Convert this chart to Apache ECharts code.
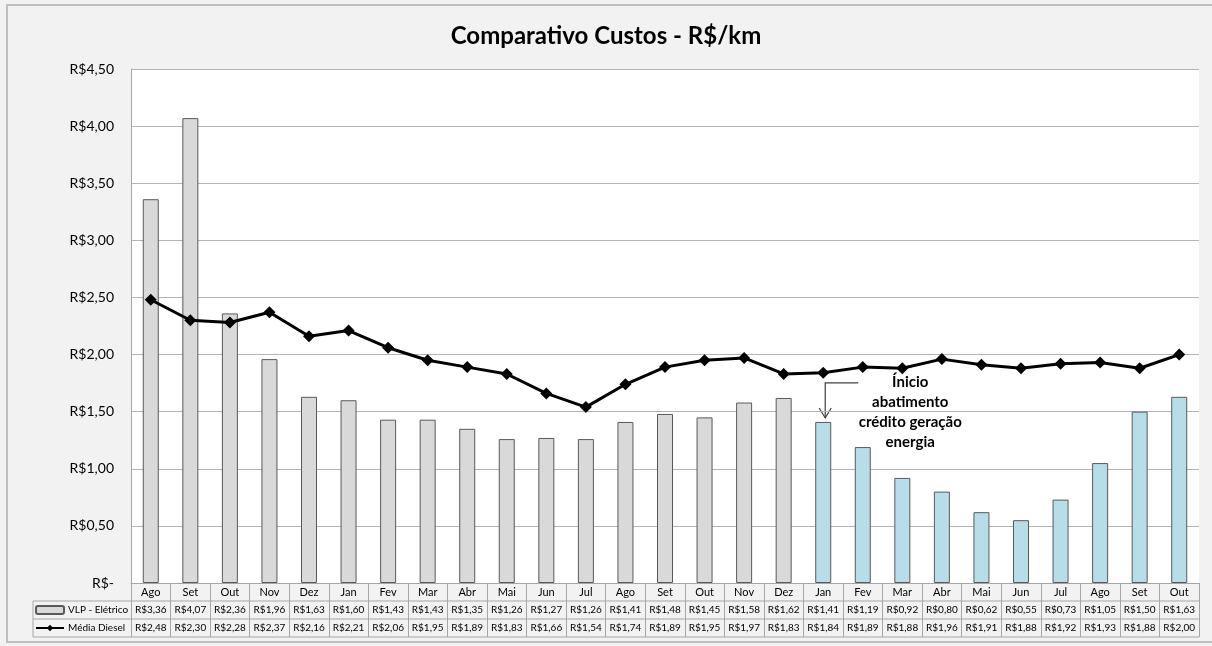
<!DOCTYPE html>
<html>
<head>
<meta charset="utf-8">
<title>Comparativo Custos - R$/km</title>
<script src="https://cdn.jsdelivr.net/npm/echarts@6/dist/echarts.min.js"></script>
<style>
  html, body { margin: 0; padding: 0; background: #f2f2f2; }
  #chart { width: 1212px; height: 646px; }
</style>
</head>
<body>
<div id="chart"></div>
<script>
// meses (dois anos seguidos)
const months = ['Ago', 'Set', 'Out', 'Nov', 'Dez', 'Jan', 'Fev', 'Mar', 'Abr', 'Mai', 'Jun', 'Jul', 'Ago',
  'Set', 'Out', 'Nov', 'Dez', 'Jan', 'Fev', 'Mar', 'Abr', 'Mai', 'Jun', 'Jul', 'Ago', 'Set', 'Out']
// VLP - Elétrico (R$/km)
const vlpEletrico = [3.36, 4.07, 2.36, 1.96, 1.63, 1.60, 1.43, 1.43, 1.35, 1.26, 1.27, 1.26, 1.41,
  1.48, 1.45, 1.58, 1.62, 1.41, 1.19, 0.92, 0.80, 0.62, 0.55, 0.73, 1.05, 1.50, 1.63]
// Média Diesel (R$/km)
const mediaDiesel = [2.48, 2.30, 2.28, 2.37, 2.16, 2.21, 2.06, 1.95, 1.89, 1.83, 1.66, 1.54, 1.74,
  1.89, 1.95, 1.97, 1.83, 1.84, 1.89, 1.88, 1.96, 1.91, 1.88, 1.92, 1.93, 1.88, 2.00]
// índice do primeiro mês com crédito de geração de energia
const creditStart = 17
const yTicks = { min: 0, max: 4.5, interval: 0.5 }

const FONT = 'Lato, "Open Sans", sans-serif'
const W = 1212
const H = 646
const gridL = 131
const gridR = 1199
const gridT = 69
const gridB = 583
const rowH = 18
const lineColor = '#a6a6a6'

function brl (v) {
  return 'R$' + v.toFixed(2).replace('.', ',')
}

const chart = echarts.init(document.getElementById('chart'), null, { renderer: 'canvas' })

const barData = vlpEletrico.map((v, i) => {
  if (i >= creditStart) {
    return { value: v, itemStyle: { color: '#b7dee8' } }
  }
  return v
})

// linhas da tabela de dados
const tableLines = []
for (let r = 1; r <= 3; r++) {
  tableLines.push({
    type: 'line',
    shape: { x1: 33, y1: gridB + rowH * r, x2: gridR, y2: gridB + rowH * r },
    style: { stroke: lineColor, lineWidth: 1 },
    silent: true
  })
}
tableLines.push({
  type: 'line',
  shape: { x1: 33, y1: gridB + rowH, x2: 33, y2: gridB + rowH * 3 },
  style: { stroke: lineColor, lineWidth: 1 },
  silent: true
})
tableLines.push({
  type: 'rect',
  shape: { x: 7, y: 5, width: W + 20, height: 637 },
  style: { fill: null, stroke: '#bfbfbf', lineWidth: 2 },
  silent: true,
  z: -1
})

const option = {
  backgroundColor: '#f2f2f2',
  animation: false,
  textStyle: { fontFamily: FONT },
  title: {
    text: 'Comparativo Custos - R$/km',
    left: 'center',
    top: 19,
    textStyle: { fontFamily: FONT, fontSize: 24, fontWeight: 'bold', color: '#000' }
  },
  legend: {
    orient: 'vertical',
    left: 35,
    top: gridB + rowH + 3,
    padding: 0,
    itemGap: 6,
    itemWidth: 28,
    itemHeight: 8,
    textStyle: { fontFamily: FONT, fontSize: 10, lineHeight: 12, color: '#000', padding: [0, 0, 0, -1] },
    data: ['VLP - Elétrico', 'Média Diesel']
  },
  grid: {
    left: gridL,
    right: W - gridR,
    top: gridT,
    bottom: H - gridB,
    show: true,
    backgroundColor: '#fff',
    borderWidth: 0
  },
  xAxis: {
    type: 'category',
    data: months,
    boundaryGap: true,
    axisLine: { lineStyle: { color: lineColor } },
    axisTick: { show: true, interval: 0, length: rowH * 3, lineStyle: { color: lineColor } },
    axisLabel: {
      interval: 0,
      margin: 0,
      hideOverlap: false,
      formatter: (value, idx) => {
        return '{m|' + value + '}\n{v|' + brl(vlpEletrico[idx]) + '}\n{v|' + brl(mediaDiesel[idx]) + '}'
      },
      rich: {
        m: { fontFamily: FONT, fontSize: 11, lineHeight: rowH, color: '#000' },
        v: { fontFamily: FONT, fontSize: 10, lineHeight: rowH, color: '#000' }
      }
    }
  },
  yAxis: {
    type: 'value',
    min: yTicks.min,
    max: yTicks.max,
    interval: yTicks.interval,
    axisLine: { show: true, lineStyle: { color: lineColor } },
    axisTick: { show: false },
    splitLine: { lineStyle: { color: '#b3b3b3' } },
    axisLabel: {
      margin: 17,
      fontFamily: FONT,
      fontSize: 14,
      color: '#000',
      formatter: v => (v === 0 ? 'R$-' : brl(v))
    }
  },
  series: [
    {
      name: 'VLP - Elétrico',
      type: 'bar',
      barWidth: 16,
      data: barData,
      itemStyle: { color: '#d9d9d9', borderColor: '#595959', borderWidth: 1 }
    },
    {
      name: 'Média Diesel',
      type: 'line',
      data: mediaDiesel,
      symbol: 'diamond',
      symbolSize: 12,
      z: 5,
      lineStyle: { color: '#000', width: 3 },
      itemStyle: { color: '#000' }
    }
  ],
  graphic: tableLines
}

chart.setOption(option)

// anotação: seta apontando para o primeiro mês com crédito
const p = chart.convertToPixel({ seriesIndex: 0 }, [creditStart, vlpEletrico[creditStart]])
const ax = p[0] + 2
const tipY = p[1] - 4
chart.setOption({
  graphic: tableLines.concat([
    {
      type: 'polyline',
      shape: { points: [[ax + 33, tipY - 35], [ax, tipY - 35], [ax, tipY]] },
      style: { stroke: '#404040', lineWidth: 1.2, fill: null },
      silent: true
    },
    {
      type: 'polyline',
      shape: { points: [[ax - 6, tipY - 10], [ax, tipY], [ax + 6, tipY - 10]] },
      style: { stroke: '#404040', lineWidth: 1.2, fill: null },
      silent: true
    },
    {
      type: 'text',
      x: ax + 85,
      y: p[1] - 50,
      style: {
        text: 'Ínicio\nabatimento\ncrédito geração\nenergia',
        fontFamily: FONT,
        fontSize: 15,
        fontWeight: 'bold',
        lineHeight: 20,
        align: 'center',
        verticalAlign: 'top',
        fill: '#000'
      },
      silent: true
    }
  ])
})
</script>
</body>
</html>
